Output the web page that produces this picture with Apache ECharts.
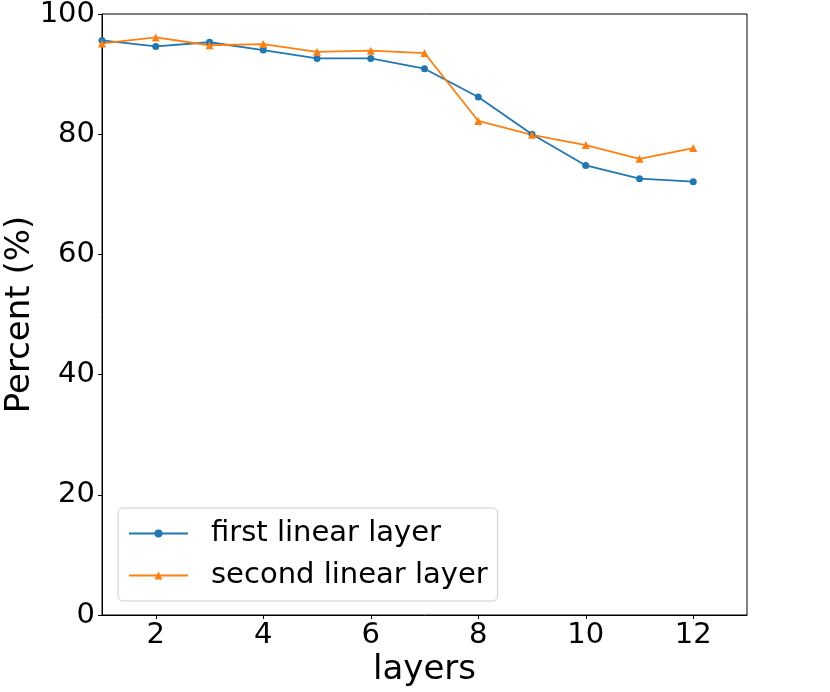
<!DOCTYPE html>
<html>
<head>
<meta charset="utf-8">
<script src="https://cdn.jsdelivr.net/npm/echarts@6/dist/echarts.min.js"></script>
<style>html,body{margin:0;padding:0;background:#fff}#c{width:830px;height:692px}</style>
</head>
<body>
<div id="c"></div>
<script>
const layers = [1,2,3,4,5,6,7,8,9,10,11,12];
const firstLinear = [95.6,94.6,95.3,94.0,92.6,92.6,90.9,86.2,80.0,74.8,72.6,72.1];
const secondLinear = [95.1,96.1,94.8,95.0,93.7,93.9,93.5,82.2,79.9,78.2,75.9,77.7];
const xTicks = [2,4,6,8,10,12];
const yTicks = [0,20,40,60,80,100];

const font = 'DejaVu Sans';
const chart = echarts.init(document.getElementById('c'));
chart.setOption({
  animation: false,
  grid: {left: 102, right: 83, top: 14, bottom: 77, containLabel: false, outerBoundsMode: 'none', show: true, borderColor: '#000', borderWidth: 1, backgroundColor: 'transparent'},
  legend: {
    orient: 'vertical', left: 118, top: 508,
    data: ['first linear layer','second linear layer'],
    itemWidth: 59, itemHeight: 10, itemGap: 13,
    padding: [11, 10, 11, 10],
    borderColor: '#ccc', borderWidth: 1, borderRadius: 5,
    backgroundColor: 'rgba(255,255,255,0.8)',
    textStyle: {fontFamily: font, fontSize: 29, color: '#000', padding: [0,0,0,18]}
  },
  xAxis: {
    type: 'value', min: 1, max: 13,
    name: 'layers', nameLocation: 'middle', nameGap: 38, nameMoveOverlap: false,
    nameTextStyle: {fontFamily: font, fontSize: 34, color: '#000'},
    axisLine: {show: true, lineStyle: {color: '#000', width: 1}},
    axisTick: {show: true, inside: false, length: 4, customValues: xTicks, lineStyle: {color: '#000'}},
    axisLabel: {customValues: xTicks, fontFamily: font, fontSize: 29, color: '#000', margin: 6},
    splitLine: {show: false}
  },
  yAxis: {
    type: 'value', min: 0, max: 100, interval: 20,
    name: 'Percent (%)', nameLocation: 'middle', nameGap: 65, nameMoveOverlap: false,
    nameTextStyle: {fontFamily: font, fontSize: 34, color: '#000'},
    axisLine: {show: true, lineStyle: {color: '#000', width: 1}},
    axisTick: {show: true, inside: false, length: 4, lineStyle: {color: '#000'}},
    axisLabel: {fontFamily: font, fontSize: 29, color: '#000', margin: 7},
    splitLine: {show: false}
  },
  series: [
    {name: 'first linear layer', type: 'line', data: layers.map((x,i)=>[x, firstLinear[i]]),
     symbol: 'circle', symbolSize: 7, color: '#1f77b4', lineStyle: {width: 1.8, color: '#1f77b4'}, itemStyle: {color: '#1f77b4'}},
    {name: 'second linear layer', type: 'line', data: layers.map((x,i)=>[x, secondLinear[i]]),
     symbol: 'triangle', symbolSize: 8, color: '#ff7f0e', lineStyle: {width: 1.8, color: '#ff7f0e'}, itemStyle: {color: '#ff7f0e'}}
  ]
});
</script>
</body>
</html>
